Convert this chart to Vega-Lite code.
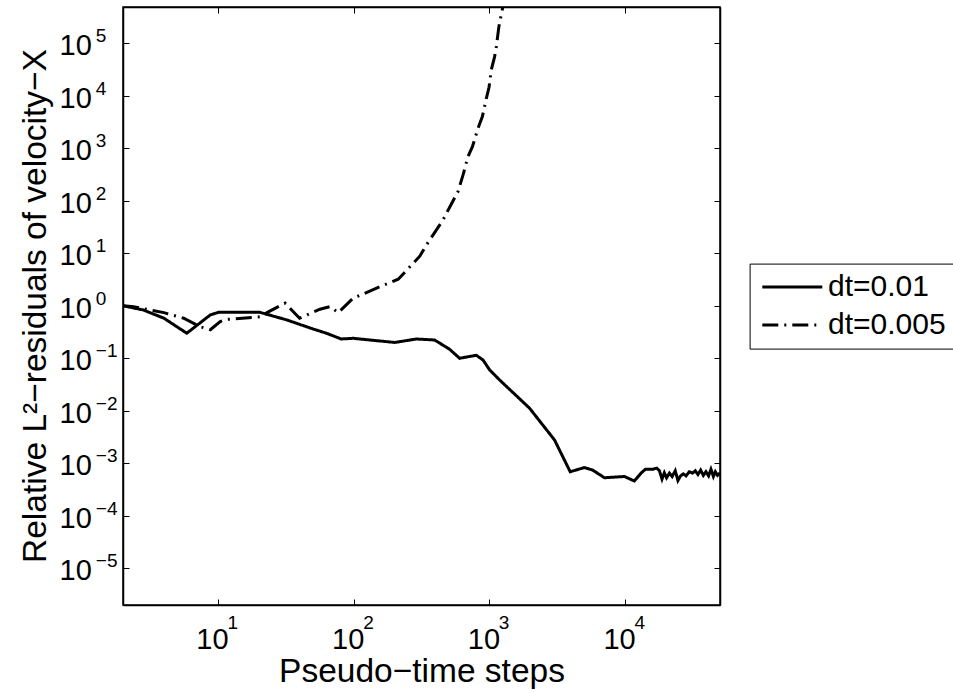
{
  "$schema": "https://vega.github.io/schema/vega-lite/v6.json",
  "autosize": {"type": "none"},
  "padding": {"left": 123, "top": 7, "right": 233, "bottom": 88},
  "width": 597,
  "height": 598,
  "background": "white",
  "config": {
    "view": {"stroke": "black", "strokeWidth": 1.5},
    "font": "Liberation Sans",
    "axis": {"grid": false, "labelFont": "Liberation Sans", "titleFont": "Liberation Sans", "labelColor": "black", "titleColor": "black", "domainColor": "black", "tickColor": "black", "labelFlush": false, "labelOverlap": false, "labelBound": false, "titleFontWeight": "normal"}
  },
  "data": {"values": [
    {"series": "dt=0.01", "steps": 2, "res": 1.0},
    {"series": "dt=0.01", "steps": 2.83, "res": 0.83},
    {"series": "dt=0.01", "steps": 4, "res": 0.58},
    {"series": "dt=0.01", "steps": 5.9, "res": 0.30},
    {"series": "dt=0.01", "steps": 8.8, "res": 0.67},
    {"series": "dt=0.01", "steps": 10.1, "res": 0.75},
    {"series": "dt=0.01", "steps": 20.4, "res": 0.75},
    {"series": "dt=0.01", "steps": 32, "res": 0.54},
    {"series": "dt=0.01", "steps": 50.5, "res": 0.36},
    {"series": "dt=0.01", "steps": 63, "res": 0.30},
    {"series": "dt=0.01", "steps": 81, "res": 0.233},
    {"series": "dt=0.01", "steps": 99, "res": 0.24},
    {"series": "dt=0.01", "steps": 201, "res": 0.20},
    {"series": "dt=0.01", "steps": 290, "res": 0.233},
    {"series": "dt=0.01", "steps": 395, "res": 0.223},
    {"series": "dt=0.01", "steps": 510, "res": 0.148},
    {"series": "dt=0.01", "steps": 604, "res": 0.10},
    {"series": "dt=0.01", "steps": 801, "res": 0.114},
    {"series": "dt=0.01", "steps": 897, "res": 0.093},
    {"series": "dt=0.01", "steps": 1005, "res": 0.06},
    {"series": "dt=0.01", "steps": 1190, "res": 0.0386},
    {"series": "dt=0.01", "steps": 1977, "res": 0.0112},
    {"series": "dt=0.01", "steps": 3020, "res": 0.00278},
    {"series": "dt=0.01", "steps": 3940, "res": 0.00069},
    {"series": "dt=0.01", "steps": 5010, "res": 0.00083},
    {"series": "dt=0.01", "steps": 5780, "res": 0.00074},
    {"series": "dt=0.01", "steps": 7040, "res": 0.00053},
    {"series": "dt=0.01", "steps": 9870, "res": 0.00056},
    {"series": "dt=0.01", "steps": 11700, "res": 0.00046},
    {"series": "dt=0.01", "steps": 13100, "res": 0.00065},
    {"series": "dt=0.01", "steps": 14100, "res": 0.00077},
    {"series": "dt=0.01", "steps": 15960, "res": 0.00077},
    {"series": "dt=0.01", "steps": 17100, "res": 0.00081},
    {"series": "dt=0.01", "steps": 17900, "res": 0.00072},
    {"series": "dt=0.01", "steps": 18700, "res": 0.00050},
    {"series": "dt=0.01", "steps": 19450, "res": 0.00066},
    {"series": "dt=0.01", "steps": 20200, "res": 0.00053},
    {"series": "dt=0.01", "steps": 21200, "res": 0.00065},
    {"series": "dt=0.01", "steps": 22200, "res": 0.00056},
    {"series": "dt=0.01", "steps": 23400, "res": 0.00072},
    {"series": "dt=0.01", "steps": 24500, "res": 0.00047},
    {"series": "dt=0.01", "steps": 25600, "res": 0.000575},
    {"series": "dt=0.01", "steps": 26800, "res": 0.00063},
    {"series": "dt=0.01", "steps": 28100, "res": 0.000575},
    {"series": "dt=0.01", "steps": 29700, "res": 0.00069},
    {"series": "dt=0.01", "steps": 31400, "res": 0.00065},
    {"series": "dt=0.01", "steps": 32900, "res": 0.00072},
    {"series": "dt=0.01", "steps": 34400, "res": 0.00061},
    {"series": "dt=0.01", "steps": 36000, "res": 0.00074},
    {"series": "dt=0.01", "steps": 37700, "res": 0.00059},
    {"series": "dt=0.01", "steps": 39400, "res": 0.00069},
    {"series": "dt=0.01", "steps": 41200, "res": 0.000575},
    {"series": "dt=0.01", "steps": 42900, "res": 0.00077},
    {"series": "dt=0.01", "steps": 44700, "res": 0.00056},
    {"series": "dt=0.01", "steps": 46200, "res": 0.00069},
    {"series": "dt=0.01", "steps": 48000, "res": 0.00059},
    {"series": "dt=0.01", "steps": 50000, "res": 0.00065},
    {"series": "dt=0.005", "steps": 2, "res": 1.0},
    {"series": "dt=0.005", "steps": 2.4, "res": 0.96},
    {"series": "dt=0.005", "steps": 4, "res": 0.74},
    {"series": "dt=0.005", "steps": 5.6, "res": 0.58},
    {"series": "dt=0.005", "steps": 7.4, "res": 0.40},
    {"series": "dt=0.005", "steps": 8.8, "res": 0.35},
    {"series": "dt=0.005", "steps": 10.4, "res": 0.50},
    {"series": "dt=0.005", "steps": 11.6, "res": 0.55},
    {"series": "dt=0.005", "steps": 21, "res": 0.62},
    {"series": "dt=0.005", "steps": 23, "res": 0.74},
    {"series": "dt=0.005", "steps": 31.3, "res": 1.12},
    {"series": "dt=0.005", "steps": 40, "res": 0.58},
    {"series": "dt=0.005", "steps": 56.5, "res": 0.86},
    {"series": "dt=0.005", "steps": 67, "res": 0.96},
    {"series": "dt=0.005", "steps": 77, "res": 0.74},
    {"series": "dt=0.005", "steps": 99, "res": 1.39},
    {"series": "dt=0.005", "steps": 156, "res": 2.3},
    {"series": "dt=0.005", "steps": 213, "res": 3.2},
    {"series": "dt=0.005", "steps": 245, "res": 4.7},
    {"series": "dt=0.005", "steps": 307, "res": 8.8},
    {"series": "dt=0.005", "steps": 344, "res": 14.4},
    {"series": "dt=0.005", "steps": 455, "res": 43},
    {"series": "dt=0.005", "steps": 525, "res": 87},
    {"series": "dt=0.005", "steps": 587, "res": 149},
    {"series": "dt=0.005", "steps": 640, "res": 310},
    {"series": "dt=0.005", "steps": 695, "res": 692},
    {"series": "dt=0.005", "steps": 750, "res": 1070},
    {"series": "dt=0.005", "steps": 825, "res": 2400},
    {"series": "dt=0.005", "steps": 888, "res": 4000},
    {"series": "dt=0.005", "steps": 950, "res": 8950},
    {"series": "dt=0.005", "steps": 994, "res": 14500},
    {"series": "dt=0.005", "steps": 1033, "res": 31000},
    {"series": "dt=0.005", "steps": 1093, "res": 55600},
    {"series": "dt=0.005", "steps": 1125, "res": 86000},
    {"series": "dt=0.005", "steps": 1175, "res": 207000},
    {"series": "dt=0.005", "steps": 1258, "res": 498000},
    {"series": "dt=0.005", "steps": 1300, "res": 800000}
  ]},
  "resolve": {"axis": {"x": "independent", "y": "independent"}},
  "layer": [
    {
      "mark": {"type": "line", "stroke": "black", "strokeWidth": 3, "clip": true, "strokeCap": "butt"},
      "encoding": {
        "x": {"field": "steps", "type": "quantitative",
          "scale": {"type": "log", "domain": [2, 50000], "nice": false, "zero": false},
          "axis": {"orient": "bottom", "values": [10, 100, 1000, 10000], "labelExpr": "'10'", "labelFontSize": 29, "labelAlign": "center", "labelBaseline": "alphabetic", "labelOffset": -6, "labelPadding": 49.3, "ticks": true, "tickSize": -6, "tickWidth": 1, "domain": true, "domainWidth": 1.5,
            "title": "Pseudo−time steps", "titleFontSize": 33.5, "titleX": 298.5, "titleY": 76.7, "titleAlign": "center", "titleBaseline": "alphabetic"}},
        "y": {"field": "res", "type": "quantitative",
          "scale": {"type": "log", "domain": [0.000002, 490000], "nice": false, "zero": false},
          "axis": {"orient": "left", "values": [0.00001, 0.0001, 0.001, 0.01, 0.1, 1, 10, 100, 1000, 10000, 100000], "labelExpr": "'10'", "labelFontSize": 29, "labelAlign": "right", "labelBaseline": "alphabetic", "labelOffset": 11.7, "labelPadding": 37.7, "ticks": true, "tickSize": -6, "tickWidth": 1, "domain": true, "domainWidth": 1.5,
            "title": "Relative L²−residuals of velocity−X", "titleFontSize": 33.5, "titleX": -77.7, "titleY": 298.5, "titleAngle": 270, "titleAlign": "center", "titleBaseline": "alphabetic"}},
        "detail": {"field": "series"},
        "strokeDash": {"field": "series", "type": "nominal",
          "scale": {"domain": ["dt=0.01", "dt=0.005"], "range": [[1, 0], [16, 6, 2, 6]]},
          "legend": {"title": null, "orient": "none", "legendX": 626.6, "legendY": 256.6, "direction": "vertical", "strokeColor": "black", "fillColor": "white", "padding": 8.5, "clipHeight": 30, "symbolType": "stroke", "symbolSize": 3600, "symbolStrokeWidth": 3, "symbolStrokeColor": "black", "symbolOffset": 2.7, "labelFontSize": 30, "labelFont": "Liberation Sans", "labelColor": "black", "labelOffset": 4.2, "rowPadding": 8, "labelLimit": 300}}
      }
    },
    {
      "mark": {"type": "line", "strokeOpacity": 0, "clip": true},
      "encoding": {
        "x": {"field": "steps", "type": "quantitative",
          "scale": {"type": "log", "domain": [2, 50000], "nice": false, "zero": false},
          "axis": {"orient": "bottom", "values": [10, 100, 1000, 10000], "labelExpr": "replace(format(round(log(datum.value)/LN10), 'd'), '-', '−')", "labelFontSize": 19, "labelAlign": "left", "labelBaseline": "alphabetic", "labelOffset": 9, "labelPadding": 23, "ticks": false, "tickSize": 0, "domain": false, "title": null}},
        "y": {"field": "res", "type": "quantitative",
          "scale": {"type": "log", "domain": [0.000002, 490000], "nice": false, "zero": false},
          "axis": {"orient": "left", "values": [0.00001, 0.0001, 0.001, 0.01, 0.1, 1, 10, 100, 1000, 10000, 100000], "labelExpr": "replace(format(round(log(datum.value)/LN10), 'd'), '-', '−')", "labelFontSize": 19, "labelAlign": "left", "labelBaseline": "alphabetic", "labelOffset": -1.6, "labelPadding": 27.7, "ticks": false, "tickSize": 0, "domain": false, "title": null}},
        "detail": {"field": "series"}
      }
    },
    {
      "mark": {"type": "line", "strokeOpacity": 0, "clip": true},
      "encoding": {
        "x": {"field": "steps", "type": "quantitative",
          "scale": {"type": "log", "domain": [2, 50000], "nice": false, "zero": false},
          "axis": {"orient": "top", "values": [10, 100, 1000, 10000], "labels": false, "ticks": true, "tickSize": -6, "tickWidth": 1, "domain": true, "domainWidth": 1.5, "title": null}},
        "y": {"field": "res", "type": "quantitative",
          "scale": {"type": "log", "domain": [0.000002, 490000], "nice": false, "zero": false},
          "axis": {"orient": "right", "values": [0.00001, 0.0001, 0.001, 0.01, 0.1, 1, 10, 100, 1000, 10000, 100000], "labels": false, "ticks": true, "tickSize": -6, "tickWidth": 1, "domain": true, "domainWidth": 1.5, "title": null}},
        "detail": {"field": "series"}
      }
    }
  ]
}
